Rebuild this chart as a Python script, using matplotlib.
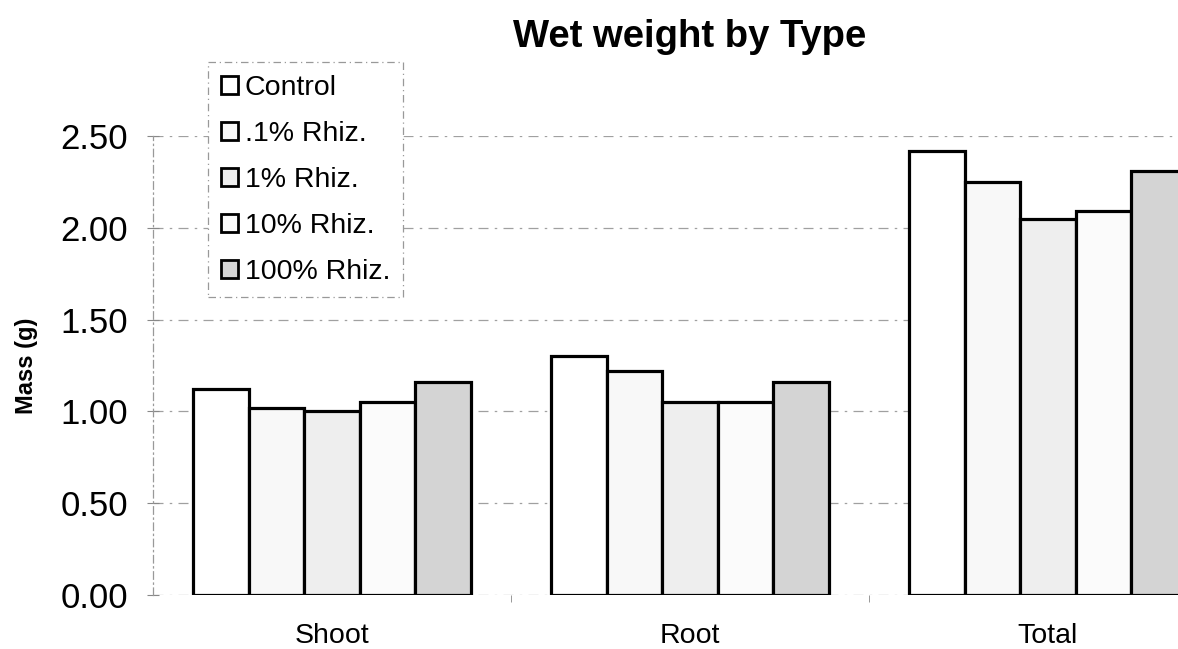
import matplotlib
matplotlib.use("Agg")
import matplotlib.pyplot as plt
import numpy as np
from matplotlib.ticker import FixedLocator, FormatStrFormatter

plt.rcParams['font.family'] = ['Liberation Sans', 'DejaVu Sans']

categories = ["Shoot", "Root", "Total"]
series_names = ["Control", ".1% Rhiz.", "1% Rhiz.", "10% Rhiz.", "100% Rhiz."]
control = [1.12, 1.30, 2.42]
rhiz_01 = [1.02, 1.22, 2.25]
rhiz_1 = [1.00, 1.05, 2.05]
rhiz_10 = [1.05, 1.05, 2.09]
rhiz_100 = [1.16, 1.16, 2.31]
yticks = [0.0, 0.5, 1.0, 1.5, 2.0, 2.5]

series = [control, rhiz_01, rhiz_1, rhiz_10, rhiz_100]
fills = ["#ffffff", "#f8f8f8", "#eeeeee", "#fbfbfb", "#d4d4d4"]

W, H = 1178, 649
fig = plt.figure(figsize=(W / 100, H / 100), dpi=100)
ax = fig.add_axes([153 / W, (H - 595) / H, 1074 / W, 459 / H])

x = np.arange(len(categories))
bw = 0.155
for i, (vals, fc, name) in enumerate(zip(series, fills, series_names)):
    ax.bar(x + (i - 2) * bw, vals, width=bw, color=fc, edgecolor="black",
           linewidth=2.3, label=name, zorder=3)

ax.set_xlim(-0.5, 2.5)
ax.set_ylim(0, 2.5)
ax.yaxis.set_major_locator(FixedLocator(yticks))
ax.yaxis.set_major_formatter(FormatStrFormatter("%.2f"))
ax.set_xticks(x)
ax.set_xticklabels(categories, fontsize=20.5)
ax.set_xticks([0.5, 1.5], minor=True)
ax.tick_params(axis="x", which="major", length=0, pad=20)
ax.tick_params(axis="x", which="minor", length=5, color="#888888", direction="out")
ax.tick_params(axis="y", labelsize=25, length=8, direction="inout", color="#888888", pad=14)

for s in ["top", "right", "bottom"]:
    ax.spines[s].set_visible(False)
ax.spines["left"].set_color("#999999")
ax.spines["left"].set_linestyle((0, (6, 3, 1, 3)))
ax.spines["left"].set_linewidth(0.9)

ax.yaxis.grid(True, color="#a0a0a0", linestyle=(0, (8, 5, 2, 5)), linewidth=0.9)
ax.set_axisbelow(True)

ax.set_ylabel("Mass (g)", fontsize=17, fontweight="bold")
ax.yaxis.set_label_coords(-0.107, 0.5)
ax.set_title("Wet weight by Type", fontsize=27.5, fontweight="bold", pad=64)

leg = ax.legend(loc="upper left", bbox_to_anchor=(0.051, 1.161), borderaxespad=0,
                fontsize=20.5, handlelength=0.6, handleheight=0.6, handletextpad=0.25,
                labelspacing=0.7, borderpad=0.45, fancybox=False, framealpha=1,
                edgecolor="#999999")
leg.get_frame().set_linestyle((0, (6, 3, 1, 3)))
leg.get_frame().set_linewidth(0.9)
for h in leg.legend_handles:
    h.set_linewidth(2.0)

fig.savefig("out.png", dpi=100)
